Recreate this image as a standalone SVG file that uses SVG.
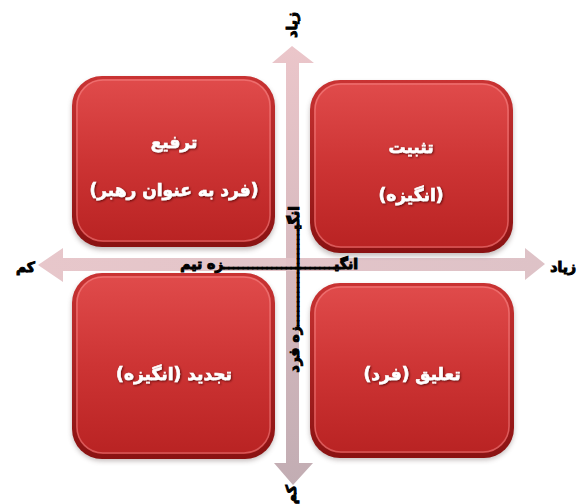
<svg xmlns="http://www.w3.org/2000/svg" width="577" height="504" viewBox="0 0 577 504">
<defs>
<linearGradient id="rim" x1="0" y1="0" x2="0" y2="1">
<stop offset="0" stop-color="#c93333"/><stop offset="1" stop-color="#8a1212"/>
</linearGradient>
<linearGradient id="face" x1="0" y1="0" x2="0" y2="1">
<stop offset="0" stop-color="#e04b4b"/><stop offset="0.5" stop-color="#cd3434"/><stop offset="1" stop-color="#b92323"/>
</linearGradient>
<linearGradient id="varr" x1="0" y1="0" x2="0" y2="1">
<stop offset="0" stop-color="#ebc6ca"/><stop offset="1" stop-color="#c2adb3"/>
</linearGradient>
<linearGradient id="harr" x1="0" y1="0" x2="1" y2="0">
<stop offset="0" stop-color="#e6c4c8"/><stop offset="1" stop-color="#dcbfc4"/>
</linearGradient>
<filter id="sh" x="-10%" y="-10%" width="120%" height="125%">
<feGaussianBlur stdDeviation="2.5"/>
</filter>
<filter id="ts" x="-10%" y="-30%" width="120%" height="160%">
<feDropShadow dx="1" dy="1" stdDeviation="0.8" flood-color="#4a0000" flood-opacity="0.8"/>
</filter>
</defs>
<style>
.shadow{fill:#7a6a6a;opacity:.45;filter:url(#sh)}
.rim{fill:url(#rim)}
.face{fill:url(#face)}
.hl{fill:none;stroke:#ff9a9a;stroke-opacity:.45;stroke-width:1.5}
.lbl{font-family:"DejaVu Sans","Noto Sans",sans-serif;font-weight:bold;font-size:17px;fill:#ffffff;stroke:#ffffff;stroke-width:0.6;text-anchor:middle;filter:url(#ts)}
.ax{font-family:"DejaVu Sans","Noto Sans",sans-serif;font-weight:bold;font-size:14px;fill:#000000;stroke:#000000;stroke-width:1}
</style>
<g id="axes">
<path d="M286,63 L272,63 L292,46 L314,63 L299,63 L299,463 L313,463 L293,485 L274,463 L286,463 Z" fill="url(#varr)"/>
<path d="M63,258 L63,248 L38,265 L63,282 L63,271 L525,271 L525,280 L545,264 L525,248 L525,258 Z" fill="url(#harr)" opacity="0.95"/>
</g>
<g id="box-tl">
<rect class="shadow" x="72" y="79" width="203" height="171" rx="30"/>
<rect class="rim" x="72" y="76" width="203" height="171" rx="30"/>
<rect class="face" x="76" y="79" width="195" height="163" rx="27"/>
<rect class="hl" x="77" y="80" width="193" height="161" rx="26"/>
<text class="lbl" x="174" y="148">ترفیع</text>
<text class="lbl" x="174" y="196">(فرد به عنوان رهبر)</text>
</g>
<g id="box-tr">
<rect class="shadow" x="310" y="83" width="203" height="173" rx="30"/>
<rect class="rim" x="310" y="80" width="203" height="173" rx="30"/>
<rect class="face" x="314" y="83" width="195" height="165" rx="27"/>
<rect class="hl" x="315" y="84" width="193" height="163" rx="26"/>
<text class="lbl" x="411" y="153">تثبیت</text>
<text class="lbl" x="411" y="201">(انگیزه)</text>
</g>
<g id="box-bl">
<rect class="shadow" x="72" y="276" width="203" height="185" rx="30"/>
<rect class="rim" x="72" y="273" width="203" height="186" rx="30"/>
<rect class="face" x="76" y="276" width="195" height="178" rx="27"/>
<rect class="hl" x="77" y="277" width="193" height="176" rx="26"/>
<text class="lbl" x="174" y="380">تجدید (انگیزه)</text>
</g>
<g id="box-br">
<rect class="shadow" x="310" y="286" width="204" height="174" rx="30"/>
<rect class="rim" x="310" y="283" width="204" height="175" rx="30"/>
<rect class="face" x="314" y="286" width="196" height="167" rx="27"/>
<rect class="hl" x="315" y="287" width="194" height="165" rx="26"/>
<text class="lbl" x="412" y="380">تعلیق (فرد)</text>
</g>
<g id="labels">
<text class="ax" x="358" y="269" text-anchor="start" direction="rtl">انگیـــــــــــــــــــــــزه تیم</text>
<text class="ax" transform="translate(299,206) rotate(-90)" text-anchor="start" direction="rtl">انگیــــــــــــــــــــزه فرد</text>
<text class="ax" transform="translate(297,12) rotate(-90)" text-anchor="start" direction="rtl">زیاد</text>
<text class="ax" transform="translate(296,485) rotate(-90)" text-anchor="start" direction="rtl" font-size="13">کم</text>
<text class="ax" x="35" y="272" text-anchor="start" direction="rtl">کم</text>
<text class="ax" x="576" y="272" text-anchor="start" direction="rtl">زیاد</text>
</g>
</svg>
